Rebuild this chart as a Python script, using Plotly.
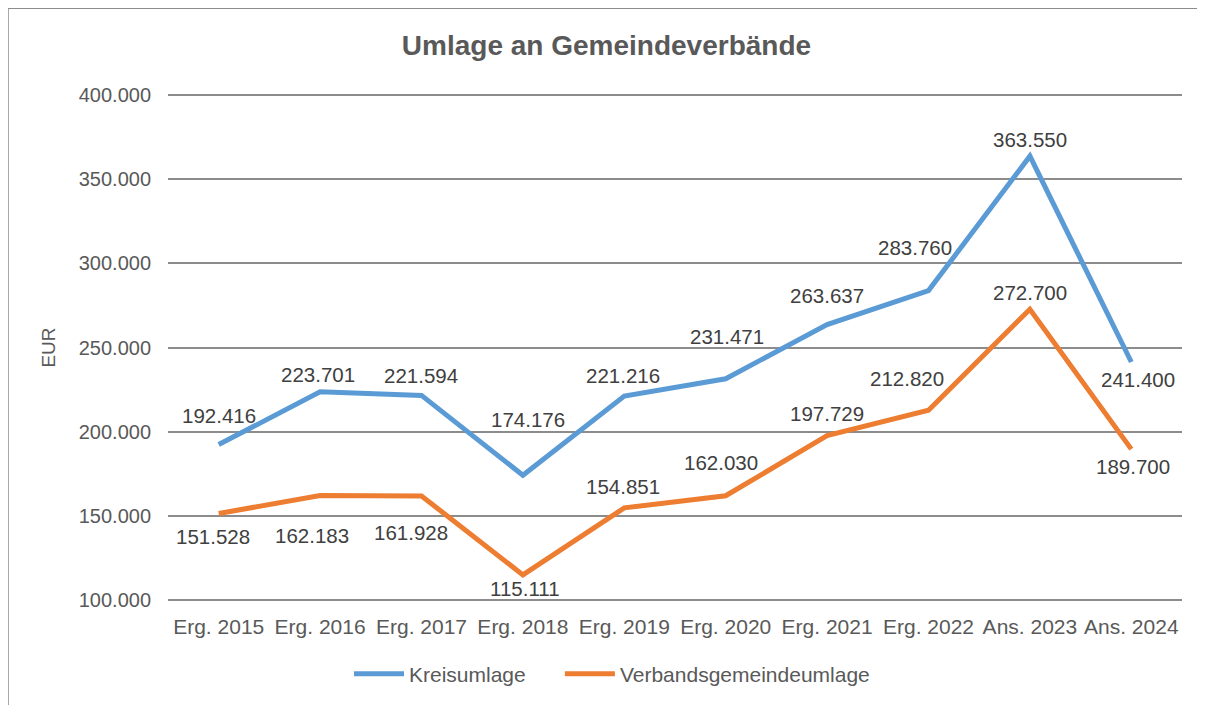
import plotly.graph_objects as go

# categories and values
categories = ["Erg. 2015", "Erg. 2016", "Erg. 2017", "Erg. 2018", "Erg. 2019",
              "Erg. 2020", "Erg. 2021", "Erg. 2022", "Ans. 2023", "Ans. 2024"]
kreisumlage = [192416, 223701, 221594, 174176, 221216, 231471, 263637, 283760, 363550, 241400]
verbandsumlage = [151528, 162183, 161928, 115111, 154851, 162030, 197729, 212820, 272700, 189700]
y_ticks = [100000, 150000, 200000, 250000, 300000, 350000, 400000]

# label offsets in pixels (dx, dy; dy positive = down), as placed in the original
kreis_offsets = [(0, -29), (-2, -17), (-1, -20), (5, -56), (-1, -21),
                 (1, -42), (0, -29), (-14, -43), (0, -17), (7, 18)]
verband_offsets = [(-6, 23), (-8, 40), (-11, 37), (2, 14), (-1, -21),
                   (-5, -33), (0, -22), (-22, -32), (0, -17), (2, 17)]

BLUE = "#5B9BD5"
ORANGE = "#ED7D31"
TEXT = "#595959"
LABEL = "#404040"
GRID = "#8c8c8c"
FONT = "Liberation Sans, Arial, sans-serif"


def de_number(v):
    return f"{v:,}".replace(",", ".")


fig = go.Figure()

fig.add_trace(go.Scatter(
    x=categories, y=kreisumlage, name="Kreisumlage" + "&nbsp;" * 5, mode="lines",
    line=dict(color=BLUE, width=5)
))
fig.add_trace(go.Scatter(
    x=categories, y=verbandsumlage, name="Verbandsgemeindeumlage", mode="lines",
    line=dict(color=ORANGE, width=5)
))

# data labels
annotations = []
for values, offsets in ((kreisumlage, kreis_offsets), (verbandsumlage, verband_offsets)):
    for cat, v, (dx, dy) in zip(categories, values, offsets):
        annotations.append(dict(
            x=cat, y=v, text=de_number(v), showarrow=False,
            xshift=dx, yshift=-dy,
            font=dict(size=20.5, color=LABEL, family=FONT)
        ))

# the page body adds 8px around the figure, so the figure is 8px smaller
W, H = 1197, 697
L, R, T, B = 160, 23, 85, 102
PW, PH = W - L - R, H - T - B

fig.update_layout(
    width=W,
    height=H,
    margin=dict(l=L, r=R, t=T, b=B),
    paper_bgcolor="white",
    plot_bgcolor="white",
    separators=",.",
    font=dict(family=FONT, color=TEXT, size=20),
    title=dict(
        text="<b>Umlage an Gemeindeverbände</b>",
        x=0.5, xref="container", xanchor="center",
        y=1 - 37 / H, yref="container", yanchor="middle",
        font=dict(size=28, color=TEXT, family=FONT)
    ),
    showlegend=True,
    legend=dict(
        orientation="h",
        x=(604 - L) / PW, xanchor="center",
        y=-(666 - (H - B)) / PH, yanchor="middle",
        font=dict(size=21, color=TEXT),
        itemwidth=50,
        tracegroupgap=0
    ),
    annotations=annotations,
    shapes=[dict(
        type="rect", xref="paper", yref="paper",
        x0=-L / PW, x1=1.2, y0=-0.4, y1=1 + T / PH,
        line=dict(color=GRID, width=1.5), layer="below"
    )]
)

fig.update_xaxes(
    range=[-0.5, 9.5],
    showgrid=False, showline=False, zeroline=False,
    ticks="", ticklabelstandoff=10,
    tickfont=dict(size=21, color=TEXT)
)
fig.update_yaxes(
    range=[99000, 401000],
    tickvals=y_ticks, tickformat=",d",
    showgrid=True, gridcolor=GRID, gridwidth=1.5,
    zeroline=False, showline=False, ticks="",
    ticklabelstandoff=16,
    tickfont=dict(size=20, color=TEXT),
    title=dict(text="EUR", standoff=18, font=dict(size=19, color=TEXT))
)

fig.write_html("out.html")
